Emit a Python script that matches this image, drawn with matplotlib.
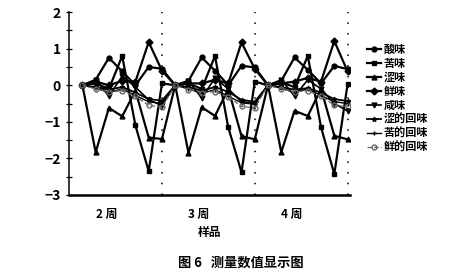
# -*- coding: utf-8 -*-
import matplotlib
matplotlib.use("Agg")
import matplotlib.pyplot as plt
import numpy as np

plt.rcParams["font.family"] = ["Noto Sans CJK SC", "DejaVu Sans"]
plt.rcParams["axes.unicode_minus"] = True

# 21 samples, 7 per week, first sample of each week is the reference (0)
samples = np.arange(21)
week_labels = ["2 周", "3 周", "4 周"]
week_label_pos = [1.8, 8.8, 15.8]
week_ends = [6, 13, 20]

suan = [0, 0.15, 0.75, 0.38, 0.00, 0.50, 0.45,
        0, 0.12, 0.76, 0.40, 0.00, 0.53, 0.49,
        0, 0.12, 0.76, 0.42, 0.05, 0.53, 0.44]
ku = [0, 0.05, -0.10, 0.80, -1.10, -2.35, 0.05,
      0, 0.05, -0.10, 0.80, -1.15, -2.38, 0.10,
      0, 0.08, -0.05, 0.80, -1.15, -2.43, 0.03]
se = [0, -1.83, -0.62, -0.85, -0.15, -1.43, -1.47,
      0, -1.85, -0.60, -0.84, -0.10, -1.39, -1.48,
      0, -1.83, -0.70, -0.84, -0.10, -1.38, -1.48]
xian = [0, 0.10, 0.00, 0.12, 0.10, 1.18, 0.40,
        0, 0.05, 0.05, 0.15, 0.05, 1.17, 0.45,
        0, 0.05, 0.10, 0.20, 0.10, 1.21, 0.38]
xian2 = [0, 0.15, -0.30, 0.25, -0.05, -0.40, -0.55,
         0, 0.12, -0.35, 0.20, -0.10, -0.45, -0.50,
         0, 0.15, -0.30, 0.15, -0.10, -0.50, -0.70]
se_hui = [0, -0.05, -0.12, -0.05, -0.20, -0.38, -0.42,
          0, -0.05, -0.15, -0.05, -0.18, -0.40, -0.45,
          0, -0.05, -0.12, -0.08, -0.20, -0.38, -0.43]
ku_hui = [0, -0.08, -0.20, -0.10, -0.28, -0.45, -0.50,
          0, -0.10, -0.22, -0.12, -0.30, -0.48, -0.52,
          0, -0.08, -0.20, -0.10, -0.28, -0.45, -0.50]
xian_hui = [0, -0.10, -0.18, -0.15, -0.30, -0.55, -0.60,
            0, -0.12, -0.20, -0.18, -0.32, -0.58, -0.62,
            0, -0.10, -0.18, -0.15, -0.30, -0.55, -0.58]

names = ["酸味", "苦味", "涩味", "鲜味", "咸味", "涩的回味", "苦的回味", "鲜的回味"]
series = [suan, ku, se, xian, xian2, se_hui, ku_hui, xian_hui]
styles = [("o", "-", 1.6, "k"), ("s", "-", 1.6, "k"), ("^", "-", 1.6, "k"),
          ("D", "-", 1.6, "k"), ("v", "-", 1.2, "k"), ("*", "-", 1.3, "k"),
          ("+", "-", 1.0, "k"), ("o", "--", 0.9, "0.4")]

fig = plt.figure(figsize=(4.49, 2.75), dpi=100)
ax = fig.add_axes([0.154, 0.291, 0.626, 0.665])

for y, name, (m, ls, lw, c) in zip(series, names, styles):
    mfc = "none" if ls == "--" else c
    ax.plot(samples, y, marker=m, linestyle=ls, lw=lw, color=c, ms=3.5,
            mfc=mfc, mec=c, label=name)

for xe in week_ends:
    ax.axvline(xe, color="k", lw=1.1, linestyle=(0, (1, 6)))

ax.set_xlim(-1, 20.2)
ax.set_ylim(-3, 2)
ax.set_yticks([-3, -2, -1, 0, 1, 2])
ax.set_yticks(np.arange(-3, 2.01, 0.5), minor=True)
ax.set_yticklabels(["\u22123", "\u22122", "\u22121", "0", "1", "2"],
                   fontweight="bold", fontsize=10)
ax.tick_params(axis="y", which="both", direction="inout", length=4, width=0.9, pad=4)
ax.set_xticks(week_label_pos)
ax.set_xticklabels(week_labels, fontweight="bold", fontsize=8.5)
ax.tick_params(axis="x", length=0, pad=9)
for s in ["top", "right"]:
    ax.spines[s].set_visible(False)
ax.spines["bottom"].set_linewidth(1.8)
ax.spines["left"].set_linewidth(1.1)
ax.set_xlabel("样品", fontweight="bold", fontsize=8.5, labelpad=4)

ax.legend(loc="upper left", bbox_to_anchor=(1.04, 0.86), frameon=False,
          prop={"size": 8, "weight": "bold"}, handlelength=1.3,
          handletextpad=0.2, labelspacing=0.08, borderpad=0)

fig.text(0.537, 0.045, "图 6   测量数值显示图", ha="center", va="center",
         fontweight="bold", fontsize=9.5)

fig.savefig("out.png", dpi=100)
